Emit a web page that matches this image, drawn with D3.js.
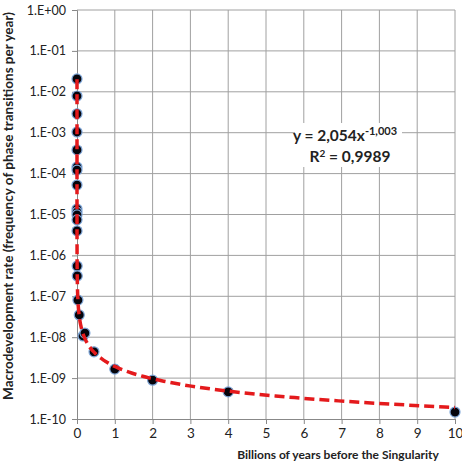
<!DOCTYPE html>
<html>
<head>
<meta charset="utf-8">
<script src="https://cdn.jsdelivr.net/npm/d3@7"></script>
<style>
  body { margin: 0; background: #fff; }
  text { font-family: Lato, "Open Sans", sans-serif; fill: #222; }
</style>
</head>
<body>
<div id="chart"></div>
<script>
// billions of years before the Singularity
const xValues = [1e-7, 2.6e-7, 7e-7, 2e-6, 5.4e-6, 1.4e-5, 1.7e-5, 4e-5,
  1.5e-4, 1.8e-4, 2.1e-4, 2.8e-4, 5.2e-4, 0.0037, 0.0065, 0.025, 0.06,
  0.16, 0.21, 0.45, 1.0, 2.0, 4.0, 10.0];
// phase transitions per year
const yValues = [0.0206, 0.0079, 0.0029, 0.00104, 0.00038, 1.45e-4, 1.22e-4, 5.25e-5,
  1.36e-5, 1.15e-5, 9.8e-6, 7.4e-6, 3.97e-6, 5.5e-7, 3.15e-7, 8.1e-8, 3.5e-8,
  1.07e-8, 1.26e-8, 4.4e-9, 1.66e-9, 8.9e-10, 4.6e-10, 1.48e-10];
const xTicks = [0, 1, 2, 3, 4, 5, 6, 7, 8, 9, 10];
const yTicks = [1, 1e-1, 1e-2, 1e-3, 1e-4, 1e-5, 1e-6, 1e-7, 1e-8, 1e-9, 1e-10];
const yTickLabels = ["1.E+00", "1.E-01", "1.E-02", "1.E-03", "1.E-04", "1.E-05",
  "1.E-06", "1.E-07", "1.E-08", "1.E-09", "1.E-10"];
// power trendline y = a * x^b (x in years)
const fitA = 2.054, fitB = -1.003;

const margin = { top: 10, right: 7, bottom: 45, left: 77 };
const W = 462, H = 464;
const width = W - margin.left - margin.right;
const height = H - margin.top - margin.bottom;

const svg = d3.select("#chart").append("svg")
    .attr("width", W)
    .attr("height", H);

const g = svg.append("g")
    .attr("transform", "translate(" + margin.left + "," + margin.top + ")");

const x = d3.scaleLinear().domain([0, 10]).range([0, width]);
const y = d3.scaleLog().domain([1e-10, 1]).range([height, 0]);

// gridlines
g.append("g").selectAll("line")
    .data(xTicks.slice(1))
    .enter().append("line")
    .attr("x1", d => x(d)).attr("x2", d => x(d))
    .attr("y1", 0).attr("y2", height)
    .attr("stroke", "#a0a0a0").attr("stroke-width", 1);

g.append("g").selectAll("line")
    .data(yTicks.slice(0, -1))
    .enter().append("line")
    .attr("x1", 0).attr("x2", width)
    .attr("y1", d => y(d)).attr("y2", d => y(d))
    .attr("stroke", "#a0a0a0").attr("stroke-width", 1);

// axes
const xAxis = d3.axisBottom(x).tickValues(xTicks).tickSize(5).tickPadding(4);
const yAxis = d3.axisLeft(y).tickValues(yTicks).tickSize(5).tickPadding(6)
    .tickFormat((d, i) => yTickLabels[i]);

const gx = g.append("g")
    .attr("transform", "translate(0," + height + ")")
    .call(xAxis);
const gy = g.append("g").call(yAxis);

[gx, gy].forEach(a => {
    a.select(".domain").attr("stroke", "#888");
    a.selectAll(".tick line").attr("stroke", "#888");
    a.selectAll(".tick text").style("font-size", "12.5px").attr("fill", "#222");
});
gx.selectAll(".tick text").style("font-size", "13.5px");

// markers
const pts = xValues.map((d, i) => ({ x: d, y: yValues[i] }));
g.append("g").selectAll("circle")
    .data(pts)
    .enter().append("circle")
    .attr("cx", d => x(d.x))
    .attr("cy", d => y(d.y))
    .attr("r", 5)
    .attr("fill", "#05050c")
    .attr("stroke", "#7ea6d8")
    .attr("stroke-width", 1.2);

// trendline from the displayed fit
const xMin = d3.min(xValues), xMax = d3.max(xValues);
const trendX = d3.range(0, 201).map(i => xMin * Math.pow(xMax / xMin, i / 200));
const line = d3.line()
    .x(d => x(d))
    .y(d => y(fitA * Math.pow(d * 1e9, fitB)))
    .curve(d3.curveMonotoneX);

g.append("path")
    .datum(trendX)
    .attr("fill", "none")
    .attr("stroke", "#e41a1c")
    .attr("stroke-width", 3.5)
    .attr("stroke-dasharray", "10,5")
    .attr("d", line);

// equation label
const lab = svg.append("g");
lab.append("rect")
    .attr("x", 295).attr("y", 123)
    .attr("width", 107).attr("height", 44)
    .attr("fill", "#fff");

const eq = lab.append("text")
    .attr("x", 345).attr("y", 141)
    .attr("text-anchor", "middle")
    .style("font-size", "15.5px")
    .style("font-weight", "bold");
eq.append("tspan").text("y = 2,054x");
eq.append("tspan").attr("dy", -6).style("font-size", "11px").text("-1,003");

const r2 = lab.append("text")
    .attr("x", 350).attr("y", 162)
    .attr("text-anchor", "middle")
    .style("font-size", "15.5px")
    .style("font-weight", "bold");
r2.append("tspan").text("R");
r2.append("tspan").attr("dy", -5).style("font-size", "10px").text("2");
r2.append("tspan").attr("dy", 5).text(" = 0,9989");

// axis titles
svg.append("text")
    .attr("x", 338).attr("y", 459)
    .attr("text-anchor", "middle")
    .style("font-size", "12px")
    .style("font-weight", "bold")
    .text("Billions of years before the Singularity");

svg.append("text")
    .attr("transform", "translate(13,206) rotate(-90)")
    .attr("text-anchor", "middle")
    .style("font-size", "13.5px")
    .style("font-weight", "bold")
    .text("Macrodevelopment rate (frequency of phase transitions per year)");
</script>
</body>
</html>
